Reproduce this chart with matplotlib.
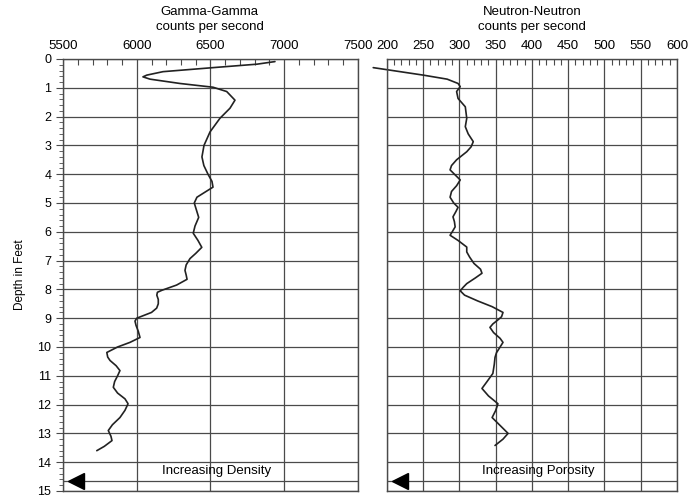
import numpy as np
import matplotlib
matplotlib.use("Agg")
import matplotlib.pyplot as plt
import matplotlib.transforms as mtransforms

plt.rcParams['font.family'] = ['Liberation Sans', 'DejaVu Sans']

# gamma-gamma log (counts per second vs depth in feet)
gamma_depth = [0.09, 0.18, 0.30, 0.44, 0.56, 0.62, 0.70, 0.85, 0.98, 1.13, 1.43,
               1.71, 2.06, 2.53, 3.00, 3.40, 3.70, 4.00, 4.25, 4.45, 4.60, 4.80,
               5.00, 5.25, 5.50, 5.80, 6.05, 6.30, 6.54, 6.75, 6.93, 7.15, 7.34,
               7.50, 7.65, 7.85, 8.03, 8.10, 8.20, 8.35, 8.50, 8.65, 8.80, 9.00,
               9.10, 9.25, 9.45, 9.67, 9.84, 10.00, 10.19, 10.35, 10.47, 10.65,
               10.82, 11.00, 11.20, 11.40, 11.60, 11.80, 11.97, 12.20, 12.45,
               12.70, 12.90, 13.10, 13.25, 13.45, 13.60]
gamma_cps = [6937, 6815, 6517, 6178, 6068, 6042, 6090, 6293, 6517, 6610, 6666,
             6632, 6564, 6497, 6456, 6442, 6455, 6483, 6510, 6517, 6470, 6408,
             6390, 6405, 6420, 6395, 6383, 6415, 6441, 6400, 6361, 6335, 6327,
             6335, 6341, 6270, 6171, 6140, 6136, 6146, 6146, 6135, 6100, 6000,
             5988, 5995, 6010, 6022, 5954, 5870, 5797, 5803, 5819, 5860,
             5886, 5870, 5850, 5841, 5870, 5920, 5941, 5920, 5886,
             5835, 5807, 5825, 5832, 5780, 5729]

# neutron-neutron log
neutron_depth = [0.30, 0.56, 0.70, 0.85, 0.96, 1.13, 1.37, 1.66, 2.06, 2.35, 2.60,
                 2.87, 3.05, 3.22, 3.50, 3.70, 3.85, 4.00, 4.20, 4.40, 4.60, 4.80,
                 5.00, 5.15, 5.30, 5.48, 5.65, 5.83, 6.00, 6.12, 6.30, 6.53, 6.70,
                 6.88, 7.10, 7.30, 7.44, 7.60, 7.80, 7.93, 8.05, 8.20, 8.40, 8.60,
                 8.80, 8.95, 9.08, 9.20, 9.32, 9.50, 9.70, 9.84, 10.00, 10.20,
                 10.36, 10.60, 10.92, 11.20, 11.44, 11.70, 11.97, 12.20, 12.45,
                 12.70, 13.00, 13.20, 13.42]
neutron_cps = [181, 250, 283, 298, 301, 296, 298, 308, 310, 308, 312,
               319, 316, 310, 296, 289, 287, 293, 301, 296, 289, 287,
               292, 298, 295, 291, 293, 294, 290, 287, 298, 310, 310,
               314, 320, 329, 331, 322, 310, 305, 301, 307, 325, 345,
               360, 358, 352, 346, 342, 347, 356, 360, 356, 351,
               349, 348, 346, 338, 331, 340, 353, 350, 345,
               355, 367, 360, 349]

fig = plt.figure(figsize=(6.88, 4.97), dpi=100)
ax1 = fig.add_axes([0.0916, 0.0121, 0.4287, 0.8692])
ax2 = fig.add_axes([0.5625, 0.0121, 0.4215, 0.8692])

grid_col = '#4a4a4a'


def setup(ax, xmin, xmax, major, minor, label_arrow):
    ax.set_xlim(xmin, xmax)
    ax.set_ylim(15, 0)
    ax.xaxis.tick_top()
    ax.set_xticks(np.arange(xmin, xmax + 1, major))
    ax.set_xticks(np.arange(xmin, xmax + 1, minor), minor=True)
    ax.tick_params(axis='x', which='major', direction='in', length=0, pad=5, labelsize=9.5)
    ax.tick_params(axis='x', which='minor', direction='in', length=4, width=0.8, color=grid_col)
    ax.grid(True, which='major', color=grid_col, linewidth=0.9)
    for s in ax.spines.values():
        s.set_color(grid_col)
        s.set_linewidth(1.0)
    ax.set_axisbelow(True)
    # arrow at the bottom of the track
    ax.axhline(14.65, color=grid_col, linewidth=0.9)
    tr = mtransforms.blended_transform_factory(ax.transAxes, ax.transData)
    ax.plot([0.045], [14.65], marker='<', markersize=12, color='black',
            transform=tr, clip_on=False)
    ax.text(0.52, 14.3, label_arrow, transform=tr, ha='center', va='center', fontsize=9.5)


setup(ax1, 5500, 7500, 500, 100, 'Increasing Density')
setup(ax2, 200, 600, 50, 10, 'Increasing Porosity')

ax1.set_yticks(np.arange(0, 16, 1))
ax1.set_yticks(np.arange(0, 15.01, 0.2), minor=True)
ax1.tick_params(axis='y', which='major', direction='out', length=5, labelsize=9, color=grid_col)
ax1.tick_params(axis='y', which='minor', direction='out', length=3, color=grid_col)
ax1.set_ylabel('Depth in Feet', fontsize=8.5, labelpad=8)

ax2.set_yticks(np.arange(0, 16, 1))
ax2.tick_params(axis='y', which='both', left=False, labelleft=False)

ax1.plot(gamma_cps, gamma_depth, color='#222222', linewidth=1.2,
         solid_joinstyle='round', solid_capstyle='round')
ax2.plot(neutron_cps, neutron_depth, color='#222222', linewidth=1.2,
         solid_joinstyle='round', solid_capstyle='round', clip_on=False)

fig.text(0.305, 0.976, 'Gamma-Gamma', ha='center', va='center', fontsize=9.5)
fig.text(0.305, 0.946, 'counts per second', ha='center', va='center', fontsize=9.5)
fig.text(0.773, 0.976, 'Neutron-Neutron', ha='center', va='center', fontsize=9.5)
fig.text(0.773, 0.946, 'counts per second', ha='center', va='center', fontsize=9.5)

fig.savefig('out.png', dpi=100)
